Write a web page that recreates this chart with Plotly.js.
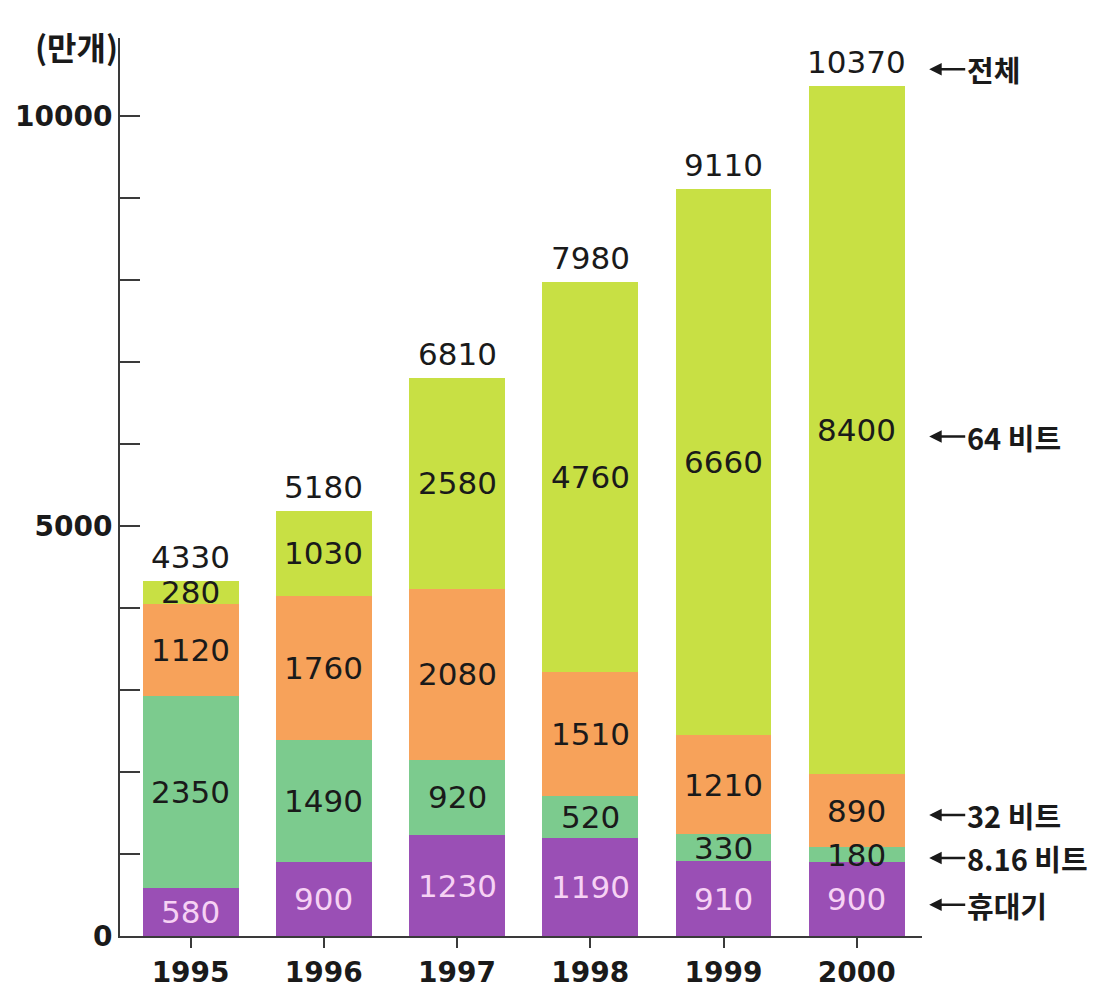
<!DOCTYPE html>
<html>
<head>
<meta charset="utf-8">
<script src="https://cdn.plot.ly/plotly-3.0.1.min.js"></script>
<style>
html,body{margin:0;padding:0;background:#fff;}
#chart{width:1102px;height:998px;}
</style>
</head>
<body>
<div id="chart"></div>
<script>
const years = ['1995','1996','1997','1998','1999','2000'];
const handheld = [580, 900, 1230, 1190, 910, 900];      // 휴대기
const bit816 = [2350, 1490, 920, 520, 330, 180];        // 8.16 비트
const bit32 = [1120, 1760, 2080, 1510, 1210, 890];      // 32 비트
const bit64 = [280, 1030, 2580, 4760, 6660, 8400];      // 64 비트
const totals = [4330, 5180, 6810, 7980, 9110, 10370];   // 전체
const seriesNames = ['휴대기', '8.16 비트', '32 비트', '64 비트'];
const yTickVals = [0,1000,2000,3000,4000,5000,6000,7000,8000,9000,10000];
const yTickText = ['0','','','','','5000','','','','','10000'];

const series = [handheld, bit816, bit32, bit64];
const colors = ['#9a4fb5', '#7ccb8e', '#f7a25a', '#c8e044'];
const labelColors = ['#f6d2f4', '#1a1a1a', '#1a1a1a', '#1a1a1a'];
const numFont = 'DejaVu Sans, Arial, sans-serif';
const krFont = 'Noto Sans CJK KR, sans-serif';

const traces = series.map((s, i) => ({
  type: 'bar', x: years, y: s, name: seriesNames[i],
  marker: {color: colors[i], line: {width: 0}},
  hoverinfo: 'skip'
}));

const annotations = [];
// segment labels at segment midpoints (x given as category index)
const base = years.map(() => 0);
series.forEach((s, i) => {
  s.forEach((v, j) => {
    annotations.push({
      x: j, y: base[j] + v / 2, xref: 'x', yref: 'y',
      text: String(v), showarrow: false,
      font: {family: numFont, size: 31, color: labelColors[i]}
    });
    base[j] += v;
  });
});
// totals
totals.forEach((t, j) => {
  annotations.push({
    x: j, y: t, xref: 'x', yref: 'y', yanchor: 'bottom', yshift: 4,
    text: String(t), showarrow: false,
    font: {family: numFont, size: 31, color: '#1a1a1a'}
  });
});
// right side legend labels with arrows, aligned with 2000 column
const last = years.length - 1;
const mids = [];
let acc = 0;
series.forEach(s => { mids.push(acc + s[last] / 2); acc += s[last]; });
const sideLabels = [
  {text: '전체', y: totals[last] + 200},
  {text: '64 비트', y: mids[3] - 80},
  {text: '32 비트', y: mids[2] - 50},
  {text: '8.16 비트', y: mids[1] - 40},
  {text: '휴대기', y: mids[0] - 70}
];
sideLabels.forEach(l => {
  annotations.push({
    x: 1.009, y: l.y, xref: 'paper', yref: 'y',
    text: l.text, showarrow: true, ax: 36, ay: 0, xanchor: 'left',
    arrowhead: 2, arrowsize: 1, arrowwidth: 2.5, arrowcolor: '#1a1a1a',
    font: {family: krFont, size: 29, color: '#1a1a1a', weight: 'bold'}
  });
});
// y unit label
annotations.push({
  x: 0, y: 1.0, xref: 'paper', yref: 'paper', xanchor: 'right', yanchor: 'middle',
  xshift: 0, yshift: -8,
  text: '(만개)', showarrow: false,
  font: {family: krFont, size: 32, color: '#1a1a1a', weight: 'bold'}
});

const layout = {
  width: 1102, height: 998,
  margin: {l: 120, r: 180, t: 38, b: 62},
  paper_bgcolor: '#ffffff', plot_bgcolor: '#ffffff',
  barmode: 'stack', bargap: 0.28,
  showlegend: false,
  xaxis: {
    type: 'category', range: [-0.53, 5.49],
    showline: true, linecolor: '#3a3a3a', linewidth: 2,
    ticks: 'outside', ticklen: 10, tickwidth: 2, tickcolor: '#3a3a3a',
    showgrid: false, zeroline: false,
    tickfont: {family: numFont, size: 28, color: '#1a1a1a', weight: 'bold'}
  },
  yaxis: {
    range: [0, 10950],
    tickvals: yTickVals, ticktext: yTickText,
    showline: true, linecolor: '#3a3a3a', linewidth: 2,
    ticks: 'inside', ticklen: 20, tickwidth: 2, tickcolor: '#3a3a3a',
    showgrid: false, zeroline: false,
    tickfont: {family: numFont, size: 28, color: '#1a1a1a', weight: 'bold'}
  },
  annotations: annotations
};

Plotly.newPlot('chart', traces, layout, {displayModeBar: false, staticPlot: true});
</script>
</body>
</html>
